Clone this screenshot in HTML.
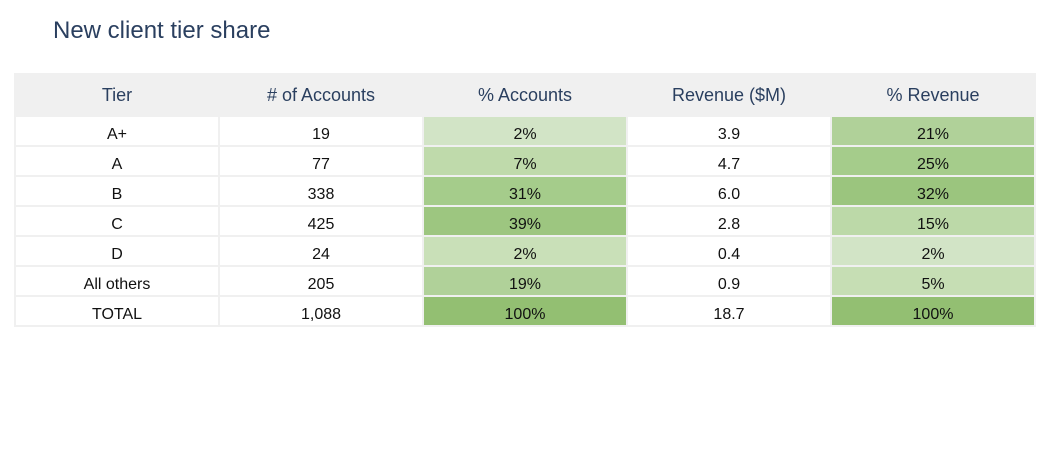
<!DOCTYPE html>
<html><head><meta charset="utf-8"><style>
body{margin:0;background:#fff;width:1050px;height:450px;overflow:hidden;font-family:"Liberation Sans",Arial,sans-serif;}
#title{position:absolute;left:53px;top:17px;font-size:24px;color:#2a3f5f;}
table{position:absolute;left:14px;top:73px;border-collapse:collapse;table-layout:fixed;width:1022px;}
td,th{border:2px solid #f0f0f0;text-align:center;padding:0;width:202px;}
th{height:40px;background:#f0f0f0;color:#2a3f5f;font-weight:normal;font-size:18px;}
td{height:20px;padding-top:8px;line-height:20px;vertical-align:top;font-size:16px;color:#111;background:#fff;}
</style></head><body>
<div id="title">New client tier share</div>
<table id="tbl"><thead><tr>
<th>Tier</th><th># of Accounts</th><th>% Accounts</th><th>Revenue ($M)</th><th>% Revenue</th></tr></thead><tbody id="body"></tbody></table>
<script>
const tiers=["A+","A","B","C","D","All others","TOTAL"];
const accounts=["19","77","338","425","24","205","1,088"];
const pctAccounts=["2%","7%","31%","39%","2%","19%","100%"];
const revenue=["3.9","4.7","6.0","2.8","0.4","0.9","18.7"];
const pctRevenue=["21%","25%","32%","15%","2%","5%","100%"];
const accColors=["#d2e4c6","#bfdaab","#a5cc8b","#9dc680","#c9e0b8","#b0d199","#93bf72"];
const revColors=["#b0d199","#a5cc8b","#9bc57e","#bcd9a8","#d2e4c6","#c6deb4","#93bf72"];
const body=document.getElementById('body');
tiers.forEach((t,i)=>{
  const tr=document.createElement('tr');
  
  
  const vals=[t,accounts[i],pctAccounts[i],revenue[i],pctRevenue[i]];
  const names=['tier','accounts','pct-accounts','revenue','pct-revenue'];
  vals.forEach((v,j)=>{
    const td=document.createElement('td');
    
    
    td.textContent=v;
    if(j===2)td.style.background=accColors[i];
    if(j===4)td.style.background=revColors[i];
    tr.appendChild(td);
  });
  body.appendChild(tr);
});
</script>
</body></html>
